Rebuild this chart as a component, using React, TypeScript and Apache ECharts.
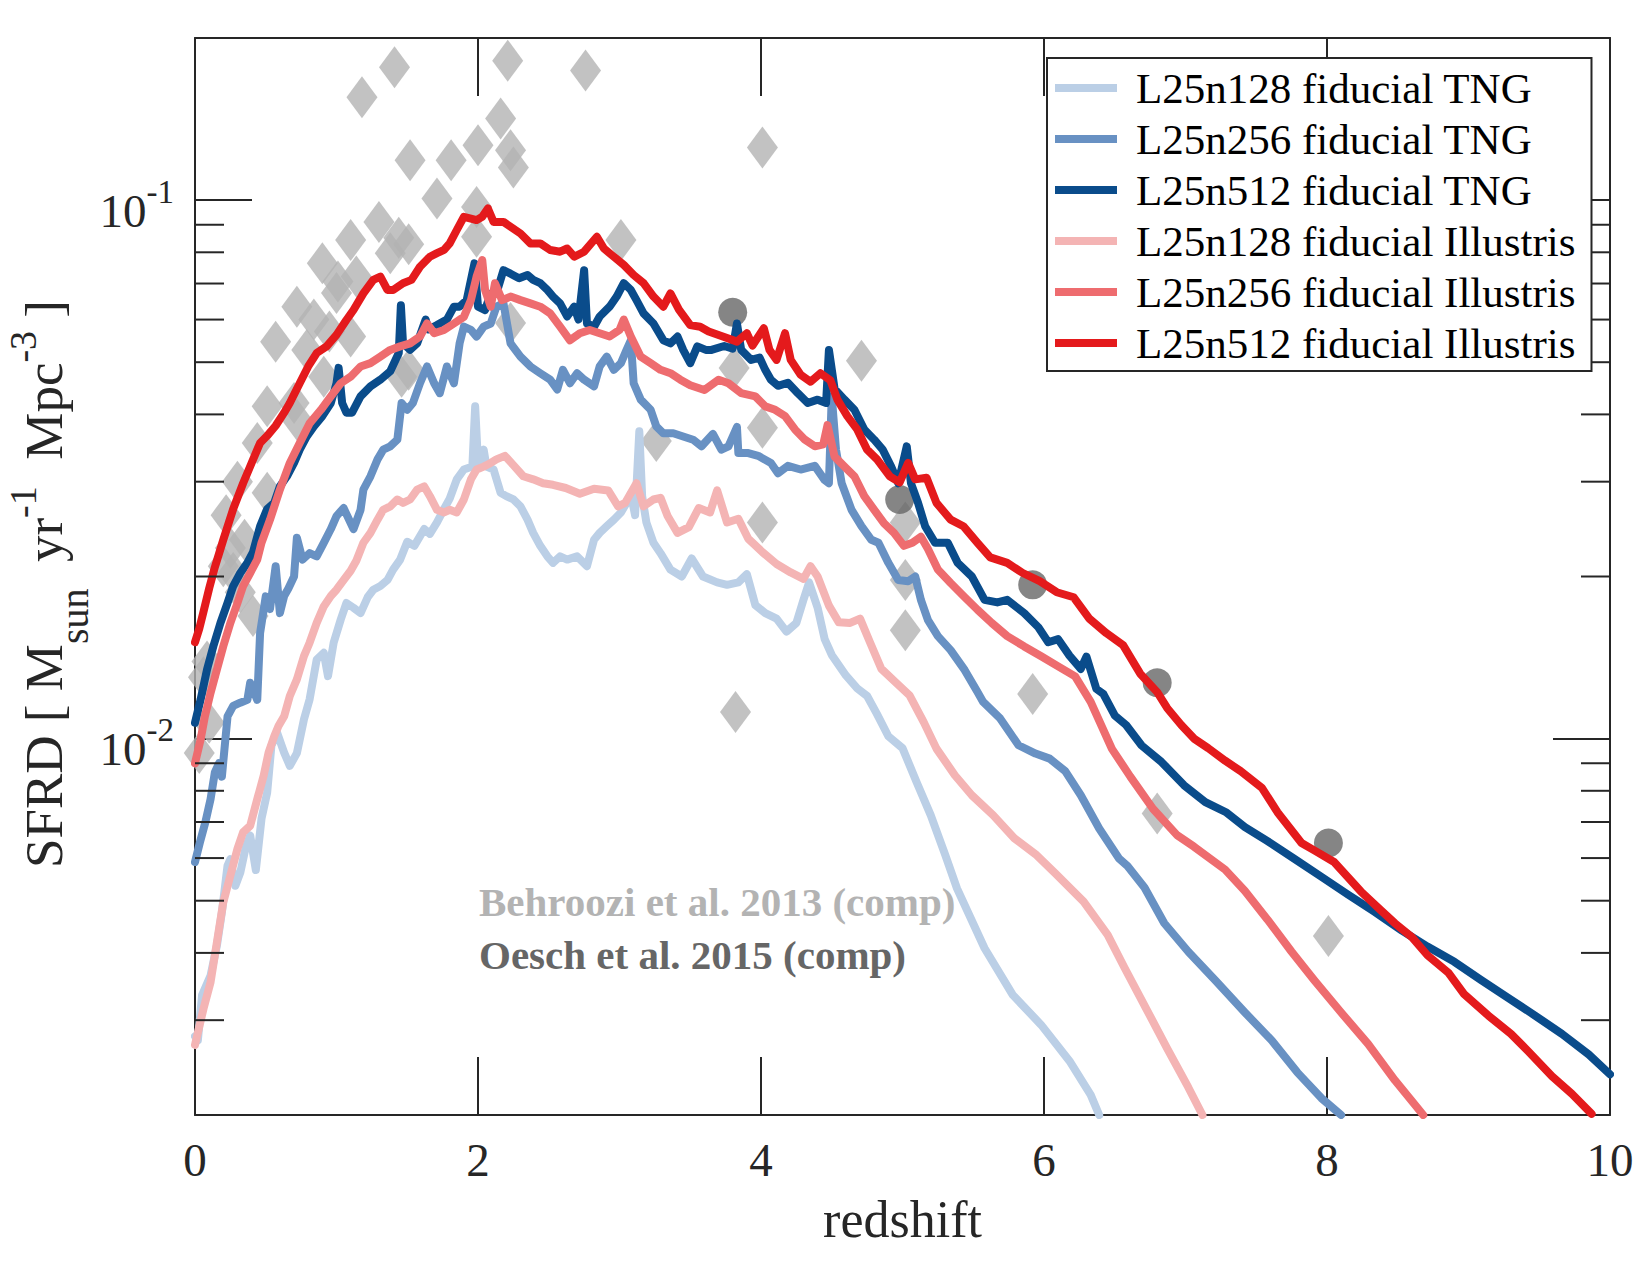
import React, { useEffect, useRef } from 'react';
import * as echarts from 'echarts';

const SERIF = '"Liberation Serif", "Times New Roman", Times, serif';
const INK = '#262626';

// axis ticks
const xTickInterval = 2;
const yMinorTickValues = [
  0.003, 0.004, 0.005, 0.006, 0.007, 0.008, 0.009,
  0.02, 0.03, 0.04, 0.05, 0.06, 0.07, 0.08, 0.09,
];

const seriesNames = [
  'L25n128 fiducial TNG',
  'L25n256 fiducial TNG',
  'L25n512 fiducial TNG',
  'L25n128 fiducial Illustris',
  'L25n256 fiducial Illustris',
  'L25n512 fiducial Illustris',
];
const seriesColors = ['#BBCFE6', '#6891C3', '#0A4C8B', '#F4B4B4', '#EE6C6F', '#E41A1C'];

// SFRD [Msun / yr / Mpc^3] against redshift, pairs of [z, sfrd]
const tngL128: [number, number][] = [
  [0, 0.0028], [0.02, 0.00275], [0.05, 0.00334], [0.11, 0.00363], [0.155, 0.00413], [0.19, 0.00476],
  [0.23, 0.00581], [0.25, 0.00597], [0.285, 0.00533], [0.32, 0.00564], [0.356, 0.00624], [0.39, 0.00661],
  [0.43, 0.0057], [0.47, 0.0071], [0.51, 0.00794], [0.54, 0.0097], [0.58, 0.01026], [0.63, 0.00942],
  [0.67, 0.0089], [0.72, 0.0094], [0.77, 0.01086], [0.81, 0.01183], [0.86, 0.01402], [0.91, 0.01443],
  [0.94, 0.01306], [0.98, 0.01507], [1.03, 0.01664], [1.07, 0.01786], [1.12, 0.0175], [1.17, 0.0171],
  [1.22, 0.0183], [1.26, 0.0189], [1.31, 0.0192], [1.36, 0.0197], [1.4, 0.0206], [1.45, 0.0215],
  [1.5, 0.0232], [1.55, 0.0228], [1.62, 0.0245], [1.66, 0.024], [1.71, 0.0252], [1.76, 0.0267],
  [1.8, 0.0279], [1.85, 0.0303], [1.9, 0.0316], [1.96, 0.032], [1.98, 0.0414], [2.0, 0.0325],
  [2.04, 0.0344], [2.06, 0.032], [2.11, 0.0316], [2.16, 0.0286], [2.2, 0.0282], [2.25, 0.0278],
  [2.3, 0.027], [2.35, 0.0255], [2.39, 0.0241], [2.44, 0.0228], [2.49, 0.0218], [2.53, 0.0212],
  [2.58, 0.0218], [2.63, 0.0215], [2.7, 0.0218], [2.77, 0.0209], [2.82, 0.0234], [2.86, 0.0241],
  [2.91, 0.0248], [2.96, 0.0255], [3.01, 0.0263], [3.05, 0.0274], [3.08, 0.0285], [3.11, 0.026],
  [3.14, 0.0372], [3.16, 0.0282], [3.19, 0.0252], [3.24, 0.0231], [3.29, 0.0221], [3.36, 0.0206],
  [3.44, 0.02], [3.51, 0.0216], [3.59, 0.02], [3.69, 0.0195], [3.76, 0.0193], [3.84, 0.0195],
  [3.9, 0.0202], [3.96, 0.0177], [4.03, 0.0171], [4.11, 0.0167], [4.18, 0.0158], [4.25, 0.0164],
  [4.3, 0.0181], [4.34, 0.0195], [4.4, 0.0175], [4.45, 0.0153], [4.5, 0.0143], [4.6, 0.0131],
  [4.68, 0.0124], [4.75, 0.012], [4.82, 0.0111], [4.9, 0.0101], [5.0, 0.0096], [5.1, 0.0083],
  [5.2, 0.0072], [5.3, 0.0061], [5.385, 0.00527], [5.58, 0.00408], [5.78, 0.00334], [5.98, 0.00294],
  [6.18, 0.00252], [6.33, 0.00218], [6.39, 0.002],
];

const tngL256: [number, number][] = [
  [0, 0.0059], [0.035, 0.00642], [0.073, 0.00699], [0.11, 0.00772], [0.14, 0.00865], [0.17, 0.009],
  [0.19, 0.0085], [0.23, 0.011], [0.27, 0.0115], [0.32, 0.01166], [0.37, 0.0118], [0.39, 0.0127],
  [0.44, 0.0118], [0.46, 0.0157], [0.5, 0.01837], [0.53, 0.0174], [0.57, 0.0209], [0.6, 0.0171],
  [0.63, 0.0184], [0.66, 0.019], [0.7, 0.02], [0.72, 0.0236], [0.76, 0.0215], [0.81, 0.0221],
  [0.86, 0.0218], [0.91, 0.0231], [0.96, 0.0245], [1.0, 0.0259], [1.05, 0.0268], [1.12, 0.0245],
  [1.17, 0.0266], [1.19, 0.029], [1.24, 0.0307], [1.29, 0.033], [1.33, 0.0344], [1.38, 0.0349],
  [1.43, 0.0359], [1.46, 0.042], [1.5, 0.0408], [1.54, 0.042], [1.59, 0.0457], [1.64, 0.0491],
  [1.69, 0.0457], [1.73, 0.0438], [1.78, 0.0491], [1.83, 0.0457], [1.87, 0.0542], [1.9, 0.0582],
  [1.95, 0.0574], [1.99, 0.0558], [2.04, 0.0582], [2.09, 0.059], [2.13, 0.0634], [2.18, 0.0643],
  [2.23, 0.0542], [2.3, 0.0512], [2.37, 0.0491], [2.44, 0.0477], [2.51, 0.0464], [2.56, 0.0445],
  [2.6, 0.0484], [2.65, 0.0457], [2.7, 0.0477], [2.75, 0.0464], [2.82, 0.0451], [2.86, 0.0491],
  [2.91, 0.0512], [2.96, 0.0484], [3.01, 0.0498], [3.05, 0.0527], [3.08, 0.0549], [3.1, 0.0457],
  [3.15, 0.0426], [3.22, 0.0408], [3.26, 0.038], [3.31, 0.0369], [3.38, 0.0369], [3.45, 0.0364],
  [3.52, 0.0359], [3.58, 0.0349], [3.66, 0.0368], [3.72, 0.0344], [3.77, 0.0349], [3.83, 0.0379],
  [3.84, 0.0339], [3.91, 0.0339], [3.98, 0.0335], [4.07, 0.0325], [4.12, 0.0311], [4.19, 0.0321],
  [4.28, 0.0316], [4.38, 0.0321], [4.45, 0.0302], [4.48, 0.0298], [4.5, 0.0432], [4.53, 0.0344],
  [4.57, 0.0298], [4.64, 0.0266], [4.71, 0.0248], [4.78, 0.0234], [4.83, 0.0231], [4.9, 0.0212],
  [4.97, 0.0197], [5.04, 0.0196], [5.09, 0.02], [5.13, 0.0181], [5.18, 0.0166], [5.25, 0.0155],
  [5.34, 0.0146], [5.44, 0.0134], [5.53, 0.0122], [5.57, 0.0117], [5.69, 0.0109], [5.82, 0.00972],
  [5.94, 0.00938], [6.04, 0.00918], [6.15, 0.0087], [6.26, 0.00785], [6.39, 0.00681], [6.53, 0.00599],
  [6.59, 0.0058], [6.71, 0.00529], [6.85, 0.00454], [7.02, 0.00402], [7.21, 0.00356], [7.42, 0.0031],
  [7.61, 0.00275], [7.79, 0.0024], [7.96, 0.00215], [8.1, 0.002],
];

const tngL512: [number, number][] = [
  [0, 0.0107], [0.04, 0.01183], [0.085, 0.01344], [0.13, 0.01485], [0.18, 0.0164], [0.23, 0.01787],
  [0.27, 0.0192], [0.32, 0.0203], [0.37, 0.0212], [0.41, 0.0222], [0.46, 0.0248], [0.51, 0.0267],
  [0.56, 0.0274], [0.6, 0.0294], [0.65, 0.0307], [0.7, 0.0325], [0.74, 0.0344], [0.79, 0.0364],
  [0.84, 0.038], [0.9, 0.0397], [0.96, 0.042], [1.0, 0.0457], [1.015, 0.0488], [1.04, 0.042],
  [1.07, 0.0403], [1.11, 0.0403], [1.17, 0.0432], [1.24, 0.0451], [1.31, 0.0464], [1.38, 0.0481],
  [1.44, 0.052], [1.455, 0.0638], [1.47, 0.0542], [1.52, 0.0527], [1.57, 0.0542], [1.63, 0.06],
  [1.65, 0.0575], [1.71, 0.0586], [1.78, 0.06], [1.83, 0.0634], [1.87, 0.0634], [1.92, 0.0652],
  [1.975, 0.0763], [2.0, 0.0634], [2.05, 0.0625], [2.09, 0.0671], [2.13, 0.0671], [2.18, 0.0741],
  [2.23, 0.073], [2.29, 0.0716], [2.35, 0.0726], [2.39, 0.0711], [2.44, 0.0701], [2.49, 0.0681],
  [2.53, 0.0662], [2.58, 0.0643], [2.63, 0.0608], [2.68, 0.0634], [2.71, 0.06], [2.75, 0.0741],
  [2.77, 0.059], [2.82, 0.0582], [2.86, 0.0608], [2.93, 0.0634], [2.98, 0.0662], [3.03, 0.0701],
  [3.08, 0.0681], [3.12, 0.0652], [3.17, 0.0616], [3.24, 0.059], [3.31, 0.0549], [3.36, 0.0542],
  [3.41, 0.0558], [3.45, 0.0527], [3.5, 0.0498], [3.55, 0.0535], [3.61, 0.0527], [3.65, 0.0527],
  [3.74, 0.0536], [3.8, 0.053], [3.83, 0.059], [3.86, 0.0527], [3.93, 0.0505], [3.99, 0.051],
  [4.03, 0.0484], [4.07, 0.0464], [4.12, 0.0452], [4.19, 0.0458], [4.26, 0.0438], [4.33, 0.042],
  [4.4, 0.0426], [4.46, 0.042], [4.48, 0.0527], [4.52, 0.0446], [4.59, 0.0426], [4.66, 0.0408],
  [4.73, 0.0375], [4.8, 0.0359], [4.86, 0.0344], [4.92, 0.032], [4.97, 0.0298], [5.03, 0.0349],
  [5.06, 0.0298], [5.11, 0.0274], [5.16, 0.0248], [5.23, 0.0231], [5.32, 0.0231], [5.39, 0.0212],
  [5.49, 0.02], [5.58, 0.0181], [5.67, 0.0179], [5.74, 0.0181], [5.86, 0.0171], [5.96, 0.0161],
  [6.03, 0.0151], [6.1, 0.0153], [6.18, 0.01426], [6.26, 0.01347], [6.3, 0.0142], [6.37, 0.01237],
  [6.42, 0.0121], [6.5, 0.01104], [6.58, 0.0106], [6.69, 0.00971], [6.83, 0.00905], [6.99, 0.00819],
  [7.14, 0.00762], [7.29, 0.00729], [7.42, 0.00685], [7.58, 0.00645], [7.77, 0.00598], [7.96, 0.00554],
  [8.15, 0.00513], [8.34, 0.00476], [8.53, 0.0044], [8.71, 0.00411], [8.9, 0.00385], [9.09, 0.00356],
  [9.28, 0.0033], [9.47, 0.00306], [9.66, 0.00283], [9.85, 0.00259], [10.0, 0.00238],
];

const illL128: [number, number][] = [
  [0, 0.0027], [0.06, 0.00315], [0.11, 0.00353], [0.155, 0.00419], [0.2, 0.00497], [0.25, 0.00557],
  [0.3, 0.00624], [0.34, 0.0067], [0.39, 0.00689], [0.44, 0.00772], [0.485, 0.00853], [0.52, 0.00942],
  [0.56, 0.0101], [0.59, 0.01055], [0.63, 0.011], [0.67, 0.012], [0.72, 0.01288], [0.77, 0.01423],
  [0.81, 0.01507], [0.86, 0.0164], [0.91, 0.0176], [0.96, 0.0184], [1.0, 0.0189], [1.05, 0.0197],
  [1.1, 0.0205], [1.14, 0.0214], [1.19, 0.0231], [1.24, 0.0241], [1.29, 0.0255], [1.33, 0.0266],
  [1.38, 0.027], [1.43, 0.0278], [1.47, 0.0274], [1.52, 0.0278], [1.57, 0.029], [1.62, 0.0294],
  [1.66, 0.0282], [1.71, 0.0266], [1.76, 0.0263], [1.8, 0.0266], [1.85, 0.0263], [1.9, 0.0278],
  [1.95, 0.0303], [1.99, 0.0316], [2.04, 0.032], [2.09, 0.0325], [2.13, 0.033], [2.19, 0.0335],
  [2.25, 0.0322], [2.32, 0.0307], [2.39, 0.0303], [2.46, 0.0298], [2.53, 0.0296], [2.62, 0.0292],
  [2.72, 0.0285], [2.82, 0.0291], [2.92, 0.0289], [2.99, 0.027], [3.04, 0.0274], [3.12, 0.0298],
  [3.17, 0.027], [3.24, 0.0278], [3.29, 0.028], [3.34, 0.0259], [3.41, 0.0241], [3.49, 0.0247],
  [3.56, 0.0268], [3.64, 0.0263], [3.69, 0.0289], [3.76, 0.0252], [3.84, 0.0256], [3.91, 0.0235],
  [4.01, 0.0222], [4.11, 0.0211], [4.21, 0.02035], [4.3, 0.0198], [4.35, 0.0209], [4.4, 0.02],
  [4.48, 0.01766], [4.55, 0.01644], [4.63, 0.0164], [4.7, 0.0167], [4.77, 0.0151], [4.85, 0.01348],
  [4.95, 0.01273], [5.05, 0.01203], [5.15, 0.01073], [5.24, 0.00958], [5.37, 0.00855], [5.49, 0.00785],
  [5.64, 0.00721], [5.79, 0.00653], [5.94, 0.0061], [6.08, 0.00562], [6.28, 0.00498], [6.45, 0.00432],
  [6.57, 0.00375], [6.72, 0.00316], [6.87, 0.00266], [7.02, 0.00225], [7.12, 0.002],
];

const illL256: [number, number][] = [
  [0, 0.009], [0.04, 0.00997], [0.07, 0.011], [0.11, 0.01216], [0.155, 0.01344], [0.2, 0.01485],
  [0.25, 0.0164], [0.3, 0.01786], [0.34, 0.0192], [0.39, 0.0203], [0.44, 0.0215], [0.47, 0.0231],
  [0.53, 0.0255], [0.6, 0.029], [0.67, 0.0325], [0.74, 0.0354], [0.81, 0.0385], [0.89, 0.0408],
  [0.96, 0.0432], [1.03, 0.0457], [1.1, 0.047], [1.17, 0.0491], [1.24, 0.0498], [1.31, 0.0512],
  [1.38, 0.0527], [1.45, 0.0535], [1.52, 0.0542], [1.59, 0.0558], [1.64, 0.059], [1.69, 0.0566],
  [1.76, 0.0574], [1.83, 0.059], [1.9, 0.0607], [1.95, 0.0652], [1.99, 0.0721], [2.03, 0.0774],
  [2.05, 0.0681], [2.09, 0.0634], [2.12, 0.0701], [2.17, 0.0652], [2.23, 0.0662], [2.3, 0.0652],
  [2.37, 0.0643], [2.44, 0.0634], [2.51, 0.0616], [2.58, 0.0582], [2.65, 0.0549], [2.72, 0.0566],
  [2.79, 0.0574], [2.86, 0.0566], [2.93, 0.0558], [3.0, 0.0574], [3.03, 0.06], [3.08, 0.0558],
  [3.15, 0.0512], [3.22, 0.0498], [3.29, 0.0484], [3.36, 0.0477], [3.43, 0.0464], [3.5, 0.0453],
  [3.6, 0.0444], [3.7, 0.0464], [3.77, 0.0457], [3.86, 0.0438], [3.96, 0.0432], [4.03, 0.0414],
  [4.1, 0.0408], [4.17, 0.0397], [4.24, 0.0375], [4.31, 0.0359], [4.38, 0.0349], [4.44, 0.0352],
  [4.47, 0.0382], [4.52, 0.0334], [4.59, 0.032], [4.66, 0.0307], [4.73, 0.0282], [4.8, 0.0266],
  [4.87, 0.0251], [4.94, 0.0241], [5.01, 0.0228], [5.07, 0.0231], [5.13, 0.0237], [5.18, 0.0225],
  [5.25, 0.0206], [5.34, 0.01945], [5.44, 0.0183], [5.53, 0.01735], [5.63, 0.0164], [5.74, 0.0155],
  [5.86, 0.01483], [5.98, 0.01422], [6.1, 0.01362], [6.22, 0.01305], [6.33, 0.0117], [6.48, 0.00957],
  [6.61, 0.0085], [6.77, 0.00741], [6.94, 0.00662], [7.06, 0.0063], [7.28, 0.00571], [7.42, 0.00521],
  [7.58, 0.00461], [7.75, 0.00402], [7.91, 0.00356], [8.1, 0.0031], [8.29, 0.00271], [8.48, 0.00232],
  [8.64, 0.00206], [8.68, 0.002],
];

const illL512: [number, number][] = [
  [0, 0.0151], [0.03, 0.016], [0.06, 0.0172], [0.1, 0.019], [0.14, 0.0208], [0.2, 0.0234],
  [0.27, 0.0267], [0.34, 0.0298], [0.4, 0.0325], [0.46, 0.0354], [0.51, 0.0365], [0.57, 0.0381],
  [0.63, 0.0403], [0.67, 0.042], [0.74, 0.0457], [0.8, 0.0491], [0.86, 0.052], [0.93, 0.0535],
  [1.0, 0.0562], [1.07, 0.0599], [1.12, 0.0625], [1.19, 0.0671], [1.26, 0.0711], [1.31, 0.0721],
  [1.36, 0.0681], [1.4, 0.0681], [1.47, 0.0701], [1.53, 0.0711], [1.59, 0.0752], [1.66, 0.0785],
  [1.71, 0.0797], [1.76, 0.0808], [1.8, 0.0831], [1.85, 0.088], [1.9, 0.0931], [1.95, 0.0924],
  [1.99, 0.0918], [2.03, 0.0931], [2.07, 0.0965], [2.11, 0.0911], [2.18, 0.0911], [2.23, 0.0892],
  [2.3, 0.0867], [2.37, 0.0831], [2.44, 0.0831], [2.51, 0.0808], [2.58, 0.0802], [2.63, 0.0813],
  [2.68, 0.0785], [2.75, 0.0802], [2.84, 0.0855], [2.89, 0.0813], [2.96, 0.0785], [3.03, 0.0758],
  [3.1, 0.0726], [3.17, 0.0701], [3.24, 0.0662], [3.31, 0.0634], [3.36, 0.0671], [3.42, 0.0626],
  [3.5, 0.0586], [3.57, 0.0582], [3.63, 0.057], [3.73, 0.0558], [3.83, 0.0546], [3.9, 0.0566],
  [3.94, 0.0537], [4.02, 0.0578], [4.06, 0.0527], [4.11, 0.0505], [4.17, 0.0566], [4.21, 0.0505],
  [4.28, 0.0474], [4.35, 0.046], [4.42, 0.0477], [4.49, 0.0463], [4.54, 0.0426], [4.61, 0.0397],
  [4.68, 0.0375], [4.75, 0.0344], [4.82, 0.033], [4.91, 0.0307], [4.98, 0.0299], [5.04, 0.0325],
  [5.09, 0.0303], [5.17, 0.0305], [5.24, 0.0274], [5.34, 0.0255], [5.43, 0.0248], [5.53, 0.0231],
  [5.62, 0.0217], [5.74, 0.0212], [5.85, 0.0203], [5.97, 0.0196], [6.09, 0.0187], [6.21, 0.0183],
  [6.32, 0.0167], [6.44, 0.0157], [6.56, 0.0149], [6.68, 0.0132], [6.8, 0.0122], [6.87, 0.0114],
  [6.97, 0.0106], [7.06, 0.01], [7.16, 0.0096], [7.28, 0.0091], [7.39, 0.0087], [7.54, 0.0081],
  [7.65, 0.0073], [7.82, 0.0064], [7.91, 0.0062], [8.05, 0.0059], [8.24, 0.0052], [8.38, 0.0048],
  [8.48, 0.00454], [8.6, 0.00428], [8.71, 0.00396], [8.86, 0.00367], [8.97, 0.00335], [9.14, 0.00306],
  [9.3, 0.00283], [9.42, 0.00263], [9.59, 0.00236], [9.73, 0.00219], [9.87, 0.00201],
];

// observational compilations
const behroozi2013: [number, number][] = [
  [0.03, 0.0094], [0.06, 0.013], [0.085, 0.0139], [0.1, 0.0107], [0.2, 0.0209], [0.22, 0.026],
  [0.25, 0.0226], [0.27, 0.0203], [0.3, 0.03], [0.32, 0.0187], [0.35, 0.0234], [0.41, 0.0169],
  [0.44, 0.0354], [0.51, 0.0286], [0.51, 0.0414], [0.57, 0.0546], [0.7, 0.042], [0.72, 0.0391],
  [0.72, 0.0634], [0.79, 0.0527], [0.84, 0.06], [0.9, 0.0763], [0.91, 0.047], [0.95, 0.057],
  [1.0, 0.0672], [1.01, 0.0706], [1.1, 0.0843], [1.1, 0.0558], [1.14, 0.0721], [1.18, 0.1553],
  [1.3, 0.0911], [1.38, 0.0797], [1.41, 0.1765], [1.44, 0.0851], [1.46, 0.047], [1.51, 0.0484],
  [1.51, 0.0828], [1.52, 0.1186], [1.71, 0.1007], [1.81, 0.1186], [1.99, 0.0971], [1.99, 0.0855],
  [2.0, 0.1264], [2.16, 0.1418], [2.21, 0.1815], [2.23, 0.1237], [2.25, 0.115], [2.23, 0.0591],
  [2.76, 0.174], [3.01, 0.0843], [3.26, 0.0357], [3.81, 0.0488], [3.82, 0.0112], [4.01, 0.1252],
  [4.01, 0.0378], [4.01, 0.0252], [4.71, 0.0503], [5.02, 0.0252], [5.02, 0.0197], [5.02, 0.0159],
  [5.92, 0.0121], [6.8, 0.00726], [8.01, 0.0043],
];
const oesch2015: [number, number][] = [
  [3.8, 0.0619], [4.98, 0.0278], [5.92, 0.0193], [6.8, 0.0127], [8.01, 0.0064],
];

const simulationData = [tngL128, tngL256, tngL512, illL128, illL256, illL512];

function isDecade(v: number) {
  const l = Math.log10(v);
  return Math.abs(l - Math.round(l)) < 0.01 && v > 0.005 && v < 0.15;
}

function buildOption(): any {
  const axisLine = { show: true, onZero: false, lineStyle: { color: INK, width: 2 } };
  const majorTick = (len: number) => ({ show: true, inside: true, length: len, lineStyle: { color: INK, width: 2 } });

  const lineSeries = simulationData.map((data, i) => ({
    type: 'line',
    name: seriesNames[i],
    data,
    xAxisIndex: 0,
    yAxisIndex: 0,
    showSymbol: false,
    symbol: 'none',
    silent: true,
    z: 3 + i * 0.01,
    itemStyle: { color: seriesColors[i] },
    lineStyle: { color: seriesColors[i], width: 8, cap: 'round', join: 'round' },
    emphasis: { disabled: true },
  }));

  return {
    animation: false,
    backgroundColor: '#ffffff',
    grid: { left: 195, right: 40, top: 38, bottom: 160, containLabel: false, outerBoundsMode: 'none' },
    xAxis: [
      {
        type: 'value', min: 0, max: 10, interval: xTickInterval, position: 'bottom',
        axisLine, axisTick: majorTick(58), splitLine: { show: false },
        axisLabel: {
          show: true, margin: 21, fontFamily: SERIF, fontSize: 47, color: INK,
          showMinLabel: true, showMaxLabel: true, formatter: (v: number) => String(v),
        },
        name: 'redshift', nameLocation: 'middle', nameGap: 78, nameMoveOverlap: false,
        nameTextStyle: { fontFamily: SERIF, fontSize: 52, color: INK },
      },
      {
        type: 'value', min: 0, max: 10, interval: xTickInterval, position: 'top',
        axisLine, axisTick: majorTick(58), splitLine: { show: false }, axisLabel: { show: false },
      },
    ],
    yAxis: [
      {
        type: 'log', logBase: 10, min: 0.002, max: 0.2, position: 'left',
        axisLine, axisTick: majorTick(57), splitLine: { show: false }, minorTick: { show: false },
        axisLabel: {
          show: true, margin: 21, padding: [16, 0, 0, 0],
          formatter: (v: number) => (isDecade(v) ? `{b|10}{s|${Math.round(Math.log10(v))}}` : ''),
          rich: {
            b: { fontFamily: SERIF, fontSize: 47, height: 47, lineHeight: 66, padding: [12, 0, 0, 0], verticalAlign: 'top', color: INK },
            s: { fontFamily: SERIF, fontSize: 33, height: 33, lineHeight: 66, verticalAlign: 'top', color: INK },
          },
        },
        name: '{m|SFRD [ M}{sub|sun}{m|  yr}{sup|-1}{m|  Mpc}{sup|-3}{m| ]}',
        nameLocation: 'middle', nameRotate: 90, nameGap: 131, nameMoveOverlap: false,
        nameTextStyle: {
          padding: [0, 15, 0, 0],
          rich: {
            m: { fontFamily: SERIF, fontSize: 53, height: 53, lineHeight: 60, padding: [13, 0, 0, 0], verticalAlign: 'top', color: INK },
            sub: { fontFamily: SERIF, fontSize: 40, height: 40, lineHeight: 60, padding: [50, 0, 0, 0], verticalAlign: 'top', color: INK },
            sup: { fontFamily: SERIF, fontSize: 38, height: 38, lineHeight: 60, verticalAlign: 'top', color: INK },
          },
        },
      },
      {
        type: 'log', logBase: 10, min: 0.002, max: 0.2, position: 'right',
        axisLine, axisTick: majorTick(57), splitLine: { show: false }, minorTick: { show: false },
        axisLabel: { show: false },
      },
    ],
    legend: {
      data: seriesNames,
      orient: 'vertical',
      left: 1047,
      top: 58,
      padding: [8, 16, 6, 8],
      itemGap: 7,
      itemWidth: 62,
      itemHeight: 8,
      icon: 'rect',
      borderColor: INK,
      borderWidth: 2,
      backgroundColor: '#ffffff',
      selectedMode: false,
      textStyle: { fontFamily: SERIF, fontSize: 43, lineHeight: 44, color: '#000000', padding: [0, 0, 0, 14] },
      z: 20,
    },
    graphic: [
      {
        type: 'text', x: 479, y: 902, z: 1,
        style: {
          text: 'Behroozi et al. 2013 (comp)', font: `bold 41px ${SERIF}`, fill: '#B3B3B3',
          verticalAlign: 'middle', textVerticalAlign: 'middle',
        },
      },
      {
        type: 'text', x: 479, y: 955, z: 1,
        style: {
          text: 'Oesch et al. 2015 (comp)', font: `bold 41px ${SERIF}`, fill: '#666666',
          verticalAlign: 'middle', textVerticalAlign: 'middle',
        },
      },
    ],
    series: [
      {
        type: 'scatter', name: 'Behroozi et al. 2013 (comp)', data: behroozi2013,
        symbol: 'diamond', symbolSize: [31, 42], itemStyle: { color: '#B3B3B3' }, silent: true, z: 2,
      },
      {
        type: 'scatter', name: 'Oesch et al. 2015 (comp)', data: oesch2015,
        symbol: 'circle', symbolSize: 29, itemStyle: { color: '#666666' }, silent: true, z: 2.5,
      },
      ...lineSeries,
      {
        // minor log ticks on the left and right frame
        type: 'custom', name: 'minor ticks', silent: true, z: 10, clip: false,
        data: yMinorTickValues.map((v) => [0, v]),
        renderItem: (_params: any, api: any) => {
          const v = api.value(1);
          const l = api.coord([0, v]);
          const r = api.coord([10, v]);
          const st = { stroke: INK, lineWidth: 2 };
          return {
            type: 'group',
            children: [
              { type: 'line', shape: { x1: l[0], y1: l[1], x2: l[0] + 29, y2: l[1] }, style: st },
              { type: 'line', shape: { x1: r[0] - 29, y1: r[1], x2: r[0], y2: r[1] }, style: st },
            ],
          };
        },
      },
    ],
  };
}

export default function App() {
  const ref = useRef<HTMLDivElement>(null);
  useEffect(() => {
    if (!ref.current) return;
    const chart = echarts.init(ref.current, null, { renderer: 'svg' });
    chart.setOption(buildOption());
    return () => chart.dispose();
  }, []);
  return (
    <div
      ref={ref}
      style={{ position: 'fixed', left: 0, top: 0, width: 1650, height: 1275, background: '#ffffff' }}
    />
  );
}
